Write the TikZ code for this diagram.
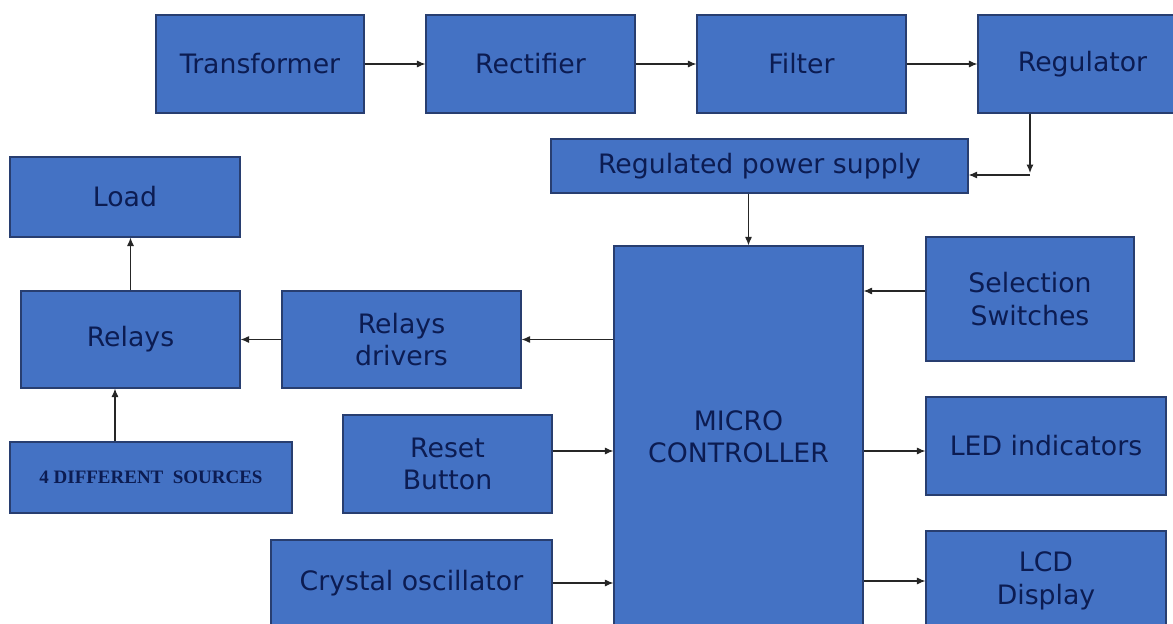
\documentclass[tikz,border=0pt]{standalone}
\usepackage{fontspec}
\setmainfont{DejaVu Sans}
\newfontfamily\srcfont{Liberation Serif}
\usetikzlibrary{arrows.meta, positioning, calc}
\definecolor{blockblue}{RGB}{68,114,196}
\definecolor{blockedge}{RGB}{40,62,112}
\definecolor{blocktext}{RGB}{12,28,82}
\tikzset{
  block/.style={draw=blockedge, line width=0.8pt, fill=blockblue, text=blocktext,
        align=center, inner sep=2pt, font=\fontsize{19}{23}\selectfont},
  arr/.style={-{Latex[length=6pt,width=5pt]}, line width=0.8pt, black!85}
}

\begin{document}
\begin{tikzpicture}[x=0.025cm, y=-0.025cm]
  \clip (0,0) rectangle (1173,624);
  % power supply chain
  \node[block, minimum width=5.2cm, minimum height=2.45cm] (trans) at (260,64) {Transformer};
  \node[block, minimum width=5.225cm, minimum height=2.45cm] (rect) at (530.5,64) {Rectifier};
  \node[block, minimum width=5.225cm, minimum height=2.45cm] (filt) at (801.5,64) {Filter};
  \node[block, minimum width=5.225cm, minimum height=2.45cm] (reg) at (1082.5,64) {Regulator};
  \node[block, minimum width=10.425cm, minimum height=1.35cm] (rps) at (759.5,166) {Regulated power supply};

  % controller and its peripherals
  \node[block, minimum width=6.225cm, minimum height=9.55cm] (micro) at (738.5,437) {MICRO\\CONTROLLER};
  \node[block, minimum width=5.2cm, minimum height=3.1cm] (sel) at (1030,299) {Selection\\Switches};
  \node[block, minimum width=6cm, minimum height=2.45cm] (led) at (1046,446) {LED indicators};
  \node[block, minimum width=6cm, minimum height=2.5cm] (lcd) at (1046,581) {LCD\\Display};
  \node[block, minimum width=5.225cm, minimum height=2.45cm] (reset) at (447.5,464) {Reset\\Button};
  \node[block, minimum width=7.025cm, minimum height=2.15cm] (xtal) at (411.5,583) {Crystal oscillator};

  % load side
  \node[block, minimum width=5.975cm, minimum height=2.425cm] (reldrv) at (401.5,339.5) {Relays\\drivers};
  \node[block, minimum width=5.475cm, minimum height=2.425cm] (relays) at (130.5,339.5) {Relays};
  \node[block, minimum width=5.75cm, minimum height=2cm] (load) at (125,197) {Load};
  \node[block, minimum width=7.05cm, minimum height=1.775cm, font=\srcfont\bfseries\fontsize{13.5}{16}\selectfont]
        (src) at (151,477.5) {4 DIFFERENT\ \ SOURCES};

  \draw[arr] (trans) -- (rect);
  \draw[arr] (rect) -- (filt);
  \draw[arr] (filt) -- (reg);
  \coordinate (bend) at (1030,175);
  \draw[arr] (reg.south -| bend) -- ([yshift=0.05cm]bend);
  \draw[arr] (bend) -- (bend -| rps.east);
  \draw[arr] ([xshift=0.25cm]micro.north |- rps.south) -- ([xshift=0.25cm]micro.north);

  \draw[arr] ([yshift=0.2cm]sel.west) -- ([yshift=0.2cm]sel.west -| micro.east);
  \draw[arr] ([yshift=-0.125cm]led.west -| micro.east) -- ([yshift=-0.125cm]led.west);
  \draw[arr] (lcd.west -| micro.east) -- (lcd.west);
  \draw[arr] ([yshift=0.325cm]reset.east) -- ([yshift=0.325cm]reset.east -| micro.west);
  \draw[arr] (xtal.east) -- (xtal.east -| micro.west);

  \draw[arr] (micro.west |- reldrv.east) -- (reldrv.east);
  \draw[arr] (reldrv) -- (relays);
  \draw[arr] (relays) -- (relays |- load.south);
  \draw[arr] ([xshift=-0.9cm]src.north) -- ([xshift=-0.9cm]src.north |- relays.south);
\end{tikzpicture}
\end{document}
